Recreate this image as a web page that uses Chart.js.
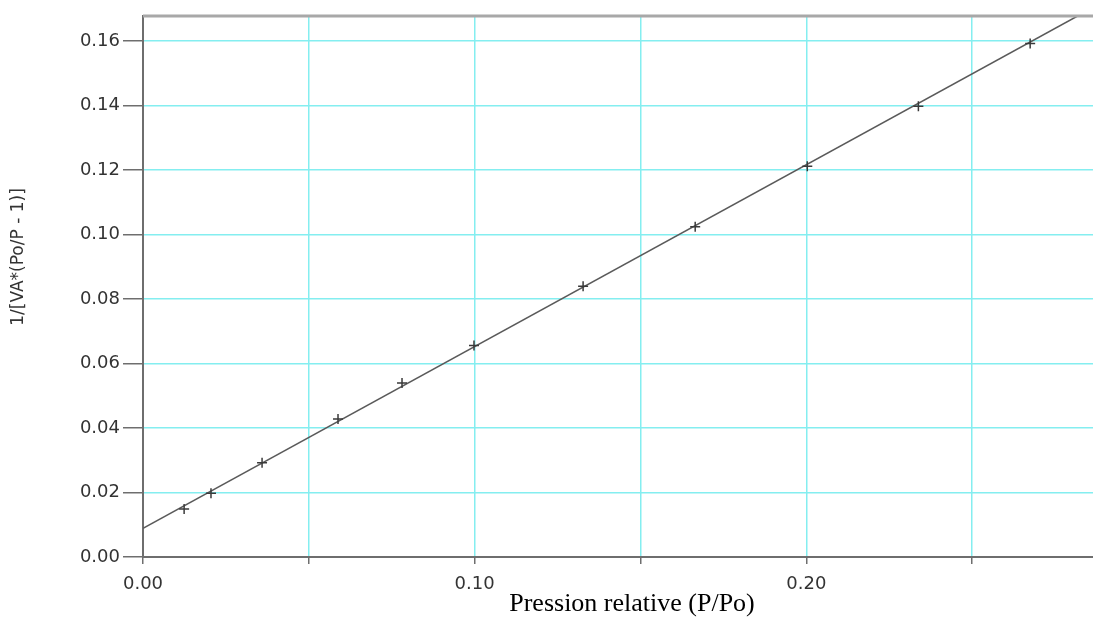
<!DOCTYPE html>
<html>
<head>
<meta charset="utf-8">
<script src="https://cdn.jsdelivr.net/npm/chart.js@4"></script>
<style>
  html, body { margin: 0; padding: 0; background: #fff; overflow: hidden; }
  #cont { width: 1100px; height: 622px; }
</style>
</head>
<body>
<div id="cont"><canvas id="graficoBET"></canvas></div>
<script>
// valeurs
const pressionRelative = [0.0124, 0.0205, 0.0359, 0.0588, 0.0781, 0.0998, 0.1327, 0.1665, 0.2003, 0.2338, 0.2675];
const valeursBET = [0.0149, 0.0198, 0.0292, 0.0428, 0.0540, 0.0656, 0.0840, 0.1024, 0.1212, 0.1398, 0.1593];
const droiteX = [0, 0.2818];
const droiteY = [0.0089, 0.1678];
const titreX = 'Pression relative (P/Po)';
const titreY = '1/[VA*(Po/P - 1)]';

const grille = '#84eef0';
const axe = '#6e6e6e';
const police = '"DejaVu Sans", Verdana, sans-serif';

// titres des axes et bordure du haut
const decor = {
    id: 'decor',
    afterDraw(chart) {
        const c = chart.ctx;
        const a = chart.chartArea;
        c.save();
        c.strokeStyle = '#a8a8a8';
        c.lineWidth = 3;
        c.beginPath();
        c.moveTo(a.left, a.top);
        c.lineTo(a.right, a.top);
        c.stroke();

        c.fillStyle = '#000';
        c.font = '26px "Liberation Serif", "Times New Roman", serif';
        c.textAlign = 'center';
        c.textBaseline = 'alphabetic';
        c.fillText(titreX, 632, 611);

        c.translate(19, 257);
        c.rotate(-Math.PI / 2);
        c.fillStyle = '#333';
        c.textBaseline = 'middle';
        c.font = '17px ' + police;
        c.fillText(titreY, 0, 0);
        c.restore();
    }
};

const ctx = document.getElementById('graficoBET').getContext('2d');
new Chart(ctx, {
    type: 'scatter',
    data: {
        datasets: [
            {
                label: 'points',
                data: pressionRelative.map((x, i) => ({ x: x, y: valeursBET[i] })),
                pointStyle: 'cross',
                pointRadius: 5,
                pointBorderColor: '#3a3a3a',
                pointBorderWidth: 1.5,
                showLine: false
            },
            {
                label: 'droite',
                data: droiteX.map((x, i) => ({ x: x, y: droiteY[i] })),
                showLine: true,
                borderColor: '#5a5a5a',
                borderWidth: 1.5,
                pointRadius: 0
            }
        ]
    },
    options: {
        responsive: true,
        maintainAspectRatio: false,
        animation: false,
        layout: { padding: { top: 16, right: 0, left: 0, bottom: 0 } },
        plugins: {
            legend: { display: false },
            tooltip: { enabled: false }
        },
        scales: {
            x: {
                type: 'linear',
                min: 0,
                max: 0.2866,
                afterFit: (s) => { s.height = 65; },
                border: { color: axe, width: 2 },
                grid: { color: grille, lineWidth: 1.5, tickColor: axe, tickLength: 7 },
                ticks: {
                    stepSize: 0.05,
                    includeBounds: false,
                    maxRotation: 0,
                    padding: 10,
                    color: '#333',
                    font: { family: police, size: 18 },
                    callback: (v) => (Math.round(v * 100) % 10 === 0 ? v.toFixed(2) : '')
                }
            },
            y: {
                min: 0,
                max: 0.1678,
                afterFit: (s) => { s.width = 143; },
                border: { color: axe, width: 2 },
                grid: { color: grille, lineWidth: 1.5, tickColor: axe, tickLength: 20 },
                ticks: {
                    stepSize: 0.02,
                    includeBounds: false,
                    padding: 3,
                    color: '#333',
                    font: { family: police, size: 18 },
                    callback: (v) => v.toFixed(2)
                }
            }
        }
    },
    plugins: [decor]
});
</script>
</body>
</html>
